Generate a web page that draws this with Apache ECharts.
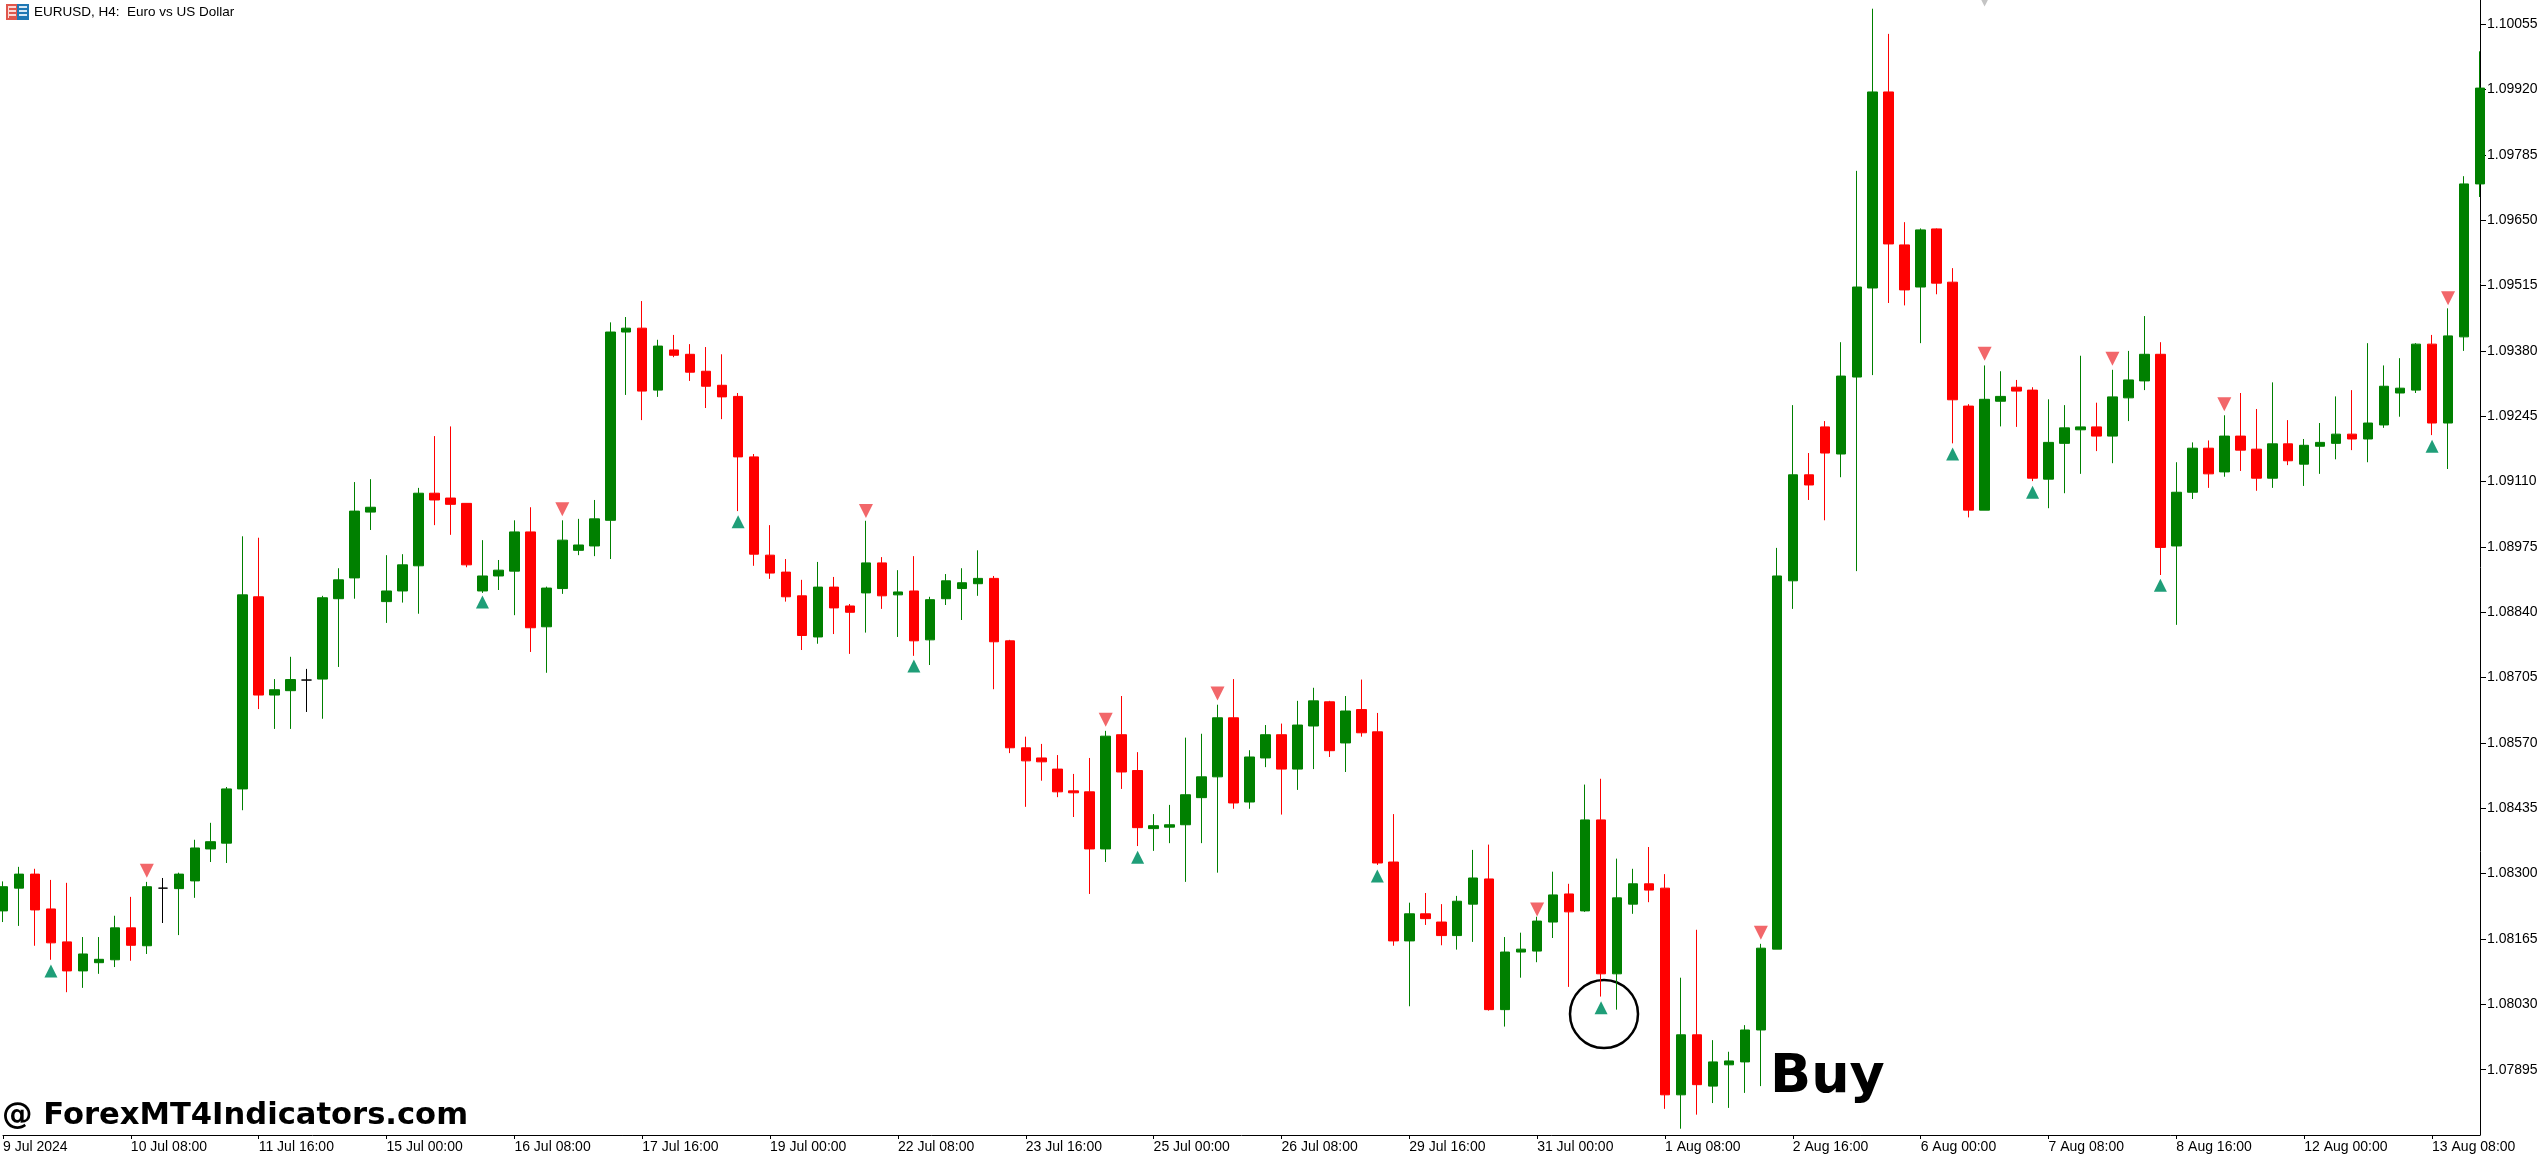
<!DOCTYPE html>
<html><head><meta charset="utf-8"><style>html,body{margin:0;padding:0;background:#fff}#c{width:2543px;height:1160px}</style>
<script src="https://cdn.jsdelivr.net/npm/echarts@6/dist/echarts.min.js"></script></head>
<body><div id="c"></div>
<script>
// H4 candles, one entry per bar
const highs=[1.08284,1.08314,1.08310,1.08287,1.08281,1.08169,1.08169,1.08213,1.08252,1.08283,1.08291,1.08302,1.08370,1.08405,1.08479,1.08997,1.08994,1.08702,1.08748,1.08723,1.08874,1.08931,1.09109,1.09115,1.08958,1.08960,1.09097,1.09204,1.09224,1.09065,1.08989,1.08948,1.09030,1.09057,1.08893,1.09030,1.09033,1.09072,1.09439,1.09450,1.09483,1.09403,1.09413,1.09394,1.09388,1.09373,1.09293,1.09167,1.09020,1.08950,1.08907,1.08944,1.08913,1.08857,1.09029,1.08954,1.08927,1.08956,1.08872,1.08919,1.08931,1.08968,1.08915,1.08783,1.08583,1.08568,1.08545,1.08506,1.08539,1.08595,1.08667,1.08551,1.08423,1.08442,1.08581,1.08589,1.08649,1.08702,1.08555,1.08607,1.08610,1.08657,1.08684,1.08657,1.08667,1.08701,1.08632,1.08423,1.08240,1.08260,1.08237,1.08254,1.08349,1.08360,1.08169,1.08178,1.08211,1.08304,1.08279,1.08484,1.08496,1.08331,1.08310,1.08355,1.08299,1.08085,1.08184,1.07956,1.07932,1.07987,1.08155,1.08973,1.09268,1.09169,1.09235,1.09398,1.09752,1.10087,1.10035,1.09646,1.09633,1.09633,1.09551,1.09270,1.09350,1.09338,1.09320,1.09305,1.09280,1.09268,1.09370,1.09273,1.09341,1.09380,1.09452,1.09398,1.09150,1.09191,1.09195,1.09247,1.09293,1.09260,1.09315,1.09237,1.09198,1.09231,1.09286,1.09299,1.09396,1.09350,1.09365,1.09396,1.09413,1.09468,1.09741,1.09999];
const lows=[1.08200,1.08192,1.08151,1.08122,1.08055,1.08064,1.08093,1.08107,1.08120,1.08134,1.08198,1.08173,1.08250,1.08324,1.08322,1.08431,1.08640,1.08599,1.08599,1.08634,1.08620,1.08727,1.08868,1.09010,1.08818,1.08860,1.08837,1.09020,1.09000,1.08933,1.08880,1.08886,1.08834,1.08758,1.08715,1.08878,1.08958,1.08956,1.08950,1.09289,1.09237,1.09285,1.09367,1.09318,1.09262,1.09239,1.09049,1.08936,1.08909,1.08862,1.08762,1.08775,1.08795,1.08754,1.08798,1.08847,1.08789,1.08750,1.08731,1.08855,1.08824,1.08874,1.08681,1.08549,1.08438,1.08492,1.08458,1.08417,1.08258,1.08324,1.08475,1.08357,1.08347,1.08363,1.08283,1.08363,1.08302,1.08434,1.08434,1.08520,1.08422,1.08473,1.08516,1.08541,1.08510,1.08583,1.08318,1.08151,1.08026,1.08194,1.08152,1.08143,1.08159,1.08017,1.07984,1.08085,1.08117,1.08167,1.08066,1.08221,1.08046,1.08019,1.08217,1.08241,1.07814,1.07773,1.07802,1.07826,1.07816,1.07847,1.07861,1.08144,1.08847,1.09072,1.09030,1.09119,1.08925,1.09330,1.09479,1.09474,1.09396,1.09497,1.09189,1.09036,1.09051,1.09224,1.09223,1.09111,1.09055,1.09086,1.09126,1.09173,1.09148,1.09235,1.09299,1.08917,1.08814,1.09074,1.09097,1.09120,1.09132,1.09091,1.09097,1.09144,1.09101,1.09126,1.09156,1.09175,1.09150,1.09221,1.09244,1.09293,1.09206,1.09136,1.09380,1.09698];
const opens=[1.08223,1.08270,1.08299,1.08227,1.08159,1.08099,1.08116,1.08122,1.08188,1.08151,1.08270,1.08269,1.08285,1.08351,1.08363,1.08475,1.08872,1.08669,1.08678,1.08700,1.08702,1.08868,1.08911,1.09047,1.08862,1.08884,1.08936,1.09086,1.09076,1.09065,1.08884,1.08915,1.08925,1.09006,1.08810,1.08889,1.08968,1.08977,1.09030,1.09419,1.09427,1.09299,1.09382,1.09373,1.09338,1.09309,1.09286,1.09161,1.08958,1.08923,1.08874,1.08789,1.08892,1.08853,1.08880,1.08942,1.08876,1.08884,1.08783,1.08868,1.08889,1.08899,1.08910,1.08781,1.08560,1.08539,1.08516,1.08471,1.08469,1.08351,1.08587,1.08513,1.08393,1.08396,1.08401,1.08457,1.08500,1.08622,1.08448,1.08539,1.08587,1.08516,1.08605,1.08655,1.08570,1.08639,1.08593,1.08324,1.08161,1.08217,1.08200,1.08172,1.08237,1.08289,1.08019,1.08138,1.08140,1.08200,1.08258,1.08223,1.08411,1.08093,1.08237,1.08279,1.08270,1.07843,1.07967,1.07861,1.07905,1.07911,1.07977,1.08144,1.08905,1.09124,1.09223,1.09167,1.09326,1.09510,1.09915,1.09599,1.09512,1.09632,1.09522,1.09266,1.09051,1.09276,1.09305,1.09299,1.09115,1.09189,1.09217,1.09223,1.09204,1.09283,1.09318,1.09373,1.08977,1.09088,1.09179,1.09130,1.09204,1.09177,1.09117,1.09188,1.09146,1.09183,1.09189,1.09208,1.09198,1.09227,1.09293,1.09299,1.09394,1.09231,1.09409,1.09725];
const closes=[1.08273,1.08299,1.08225,1.08157,1.08099,1.08134,1.08123,1.08188,1.08152,1.08273,1.08270,1.08299,1.08353,1.08366,1.08475,1.08876,1.08669,1.08680,1.08701,1.08700,1.08870,1.08907,1.09049,1.09057,1.08884,1.08938,1.09086,1.09072,1.09063,1.08938,1.08915,1.08927,1.09006,1.08808,1.08890,1.08989,1.08979,1.09033,1.09419,1.09427,1.09297,1.09390,1.09371,1.09336,1.09307,1.09285,1.09161,1.08960,1.08921,1.08872,1.08792,1.08892,1.08849,1.08840,1.08942,1.08874,1.08882,1.08781,1.08866,1.08905,1.08901,1.08910,1.08779,1.08560,1.08533,1.08531,1.08469,1.08467,1.08351,1.08584,1.08510,1.08395,1.08399,1.08401,1.08463,1.08500,1.08622,1.08446,1.08541,1.08587,1.08516,1.08607,1.08657,1.08554,1.08636,1.08591,1.08322,1.08161,1.08217,1.08207,1.08172,1.08243,1.08291,1.08019,1.08138,1.08144,1.08202,1.08256,1.08221,1.08411,1.08093,1.08250,1.08279,1.08266,1.07843,1.07967,1.07864,1.07911,1.07913,1.07977,1.08146,1.08915,1.09124,1.09103,1.09169,1.09328,1.09512,1.09915,1.09601,1.09506,1.09630,1.09520,1.09279,1.09051,1.09280,1.09286,1.09297,1.09117,1.09191,1.09221,1.09223,1.09204,1.09285,1.09320,1.09373,1.08974,1.09088,1.09179,1.09126,1.09204,1.09175,1.09117,1.09188,1.09153,1.09185,1.09191,1.09208,1.09198,1.09231,1.09307,1.09303,1.09394,1.09231,1.09411,1.09725,1.09923];
const tickLabels=["9 Jul 2024","10 Jul 08:00","11 Jul 16:00","15 Jul 00:00","16 Jul 08:00","17 Jul 16:00","19 Jul 00:00","22 Jul 08:00","23 Jul 16:00","25 Jul 00:00","26 Jul 08:00","29 Jul 16:00","31 Jul 00:00","1 Aug 08:00","2 Aug 16:00","6 Aug 00:00","7 Aug 08:00","8 Aug 16:00","12 Aug 00:00","13 Aug 08:00"];
const priceTicks=[1.07895,1.08030,1.08165,1.08300,1.08435,1.08570,1.08705,1.08840,1.08975,1.09110,1.09245,1.09380,1.09515,1.09650,1.09785,1.09920,1.10055];
const buySignalBars=[3,30,46,57,71,86,100,122,127,135,152];
const buySignalPrices=[1.08099,1.08861,1.09027,1.08729,1.08334,1.08295,1.08023,1.09167,1.09088,1.08896,1.09183];
const sellSignalBars=[9,35,54,69,76,96,110,124,132,139,153];
const sellSignalPrices=[1.08306,1.09053,1.09049,1.08618,1.08672,1.08226,1.08178,1.09374,1.09364,1.09270,1.09489];
const greySignalBars=[124];
const greySignalPrices=[1.10106];
const priceMin=1.07760, priceMax=1.10105;

const categories=opens.map((_,i)=> i%8===0 ? tickLabels[i/8] : 'bar '+i);
const FONT='"Liberation Sans", Arial, sans-serif';
const pairs=(bars,vals)=>bars.map((b,i)=>[b,vals[i]]);
const chart=echarts.init(document.getElementById('c'),null,{renderer:'canvas'});
const iconBar=(x,y,w,c)=>({type:'rect',shape:{x,y,width:w,height:2},style:{fill:c},silent:true});
chart.setOption({
  animation:false,backgroundColor:'#ffffff',
  grid:{left:-0.5,right:63,top:0,bottom:25,containLabel:false},
  xAxis:{type:'category',data:categories,boundaryGap:false,
    axisLine:{lineStyle:{color:'#000',width:1},onZero:false},
    axisTick:{interval:7,length:4,lineStyle:{color:'#000'}},
    axisLabel:{interval:7,align:'left',color:'#000',fontFamily:FONT,fontSize:14,margin:5},
    splitLine:{show:false}},
  yAxis:{type:'value',position:'right',min:priceMin,max:priceMax,scale:true,
    axisLine:{show:true,lineStyle:{color:'#000',width:1}},
    axisTick:{show:true,length:6,lineStyle:{color:'#000'},customValues:priceTicks},
    axisLabel:{color:'#000',fontFamily:FONT,fontSize:14,margin:7,customValues:priceTicks,formatter:v=>v.toFixed(5)},
    splitLine:{show:false}},
  series:[
    {type:'candlestick',barWidth:10,clip:true,
     data:opens.map((o,i)=>[o,closes[i],lows[i],highs[i]]),
     itemStyle:{color:'#008000',color0:'#ff0000',borderColor:'#008000',borderColor0:'#ff0000',borderColorDoji:'#000000',borderWidth:1}},
    {type:'scatter',symbol:'triangle',symbolSize:[13,13],clip:false,itemStyle:{color:'#1f9e78',opacity:1},data:pairs(buySignalBars,buySignalPrices)},
    {type:'scatter',symbol:'triangle',symbolRotate:180,symbolSize:[14,14],clip:false,itemStyle:{color:'#f2676a',opacity:1},data:pairs(sellSignalBars,sellSignalPrices)},
    {type:'scatter',symbol:'triangle',symbolRotate:180,symbolSize:[14,14],clip:false,itemStyle:{color:'#c4c4c4',opacity:1},data:pairs(greySignalBars,greySignalPrices)}
  ],
  graphic:[
    {type:'group',silent:true,children:[
      {type:'rect',shape:{x:7,y:5,width:10,height:14},style:{fill:'#fbd9d6',stroke:'#e0564c',lineWidth:2}},
      {type:'rect',shape:{x:18,y:5,width:10,height:14},style:{fill:'#d6e8f6',stroke:'#1f77b4',lineWidth:2}},
      iconBar(9,8,7,'#e0564c'),iconBar(9,12,7,'#e0564c'),iconBar(9,16,7,'#e0564c'),
      iconBar(19,8,8,'#1f77b4'),iconBar(19,12,8,'#1f77b4'),iconBar(19,16,8,'#1f77b4')]},
    {type:'text',silent:true,left:34,top:5,style:{text:'EURUSD, H4:  Euro vs US Dollar',font:'13.5px '+FONT,fill:'#000'}},
    {type:'circle',silent:true,shape:{cx:1604,cy:1014,r:34},style:{fill:'none',stroke:'#000',lineWidth:2.5}},
    {type:'text',silent:true,left:1770,top:1051,style:{text:'Buy',font:'bold 54px "DejaVu Sans"',fill:'#000'}},
    {type:'text',silent:true,left:2,top:1101,style:{text:'@ ForexMT4Indicators.com',font:'bold 30.6px "DejaVu Sans"',fill:'#000'}}
  ]
});
</script></body></html>
